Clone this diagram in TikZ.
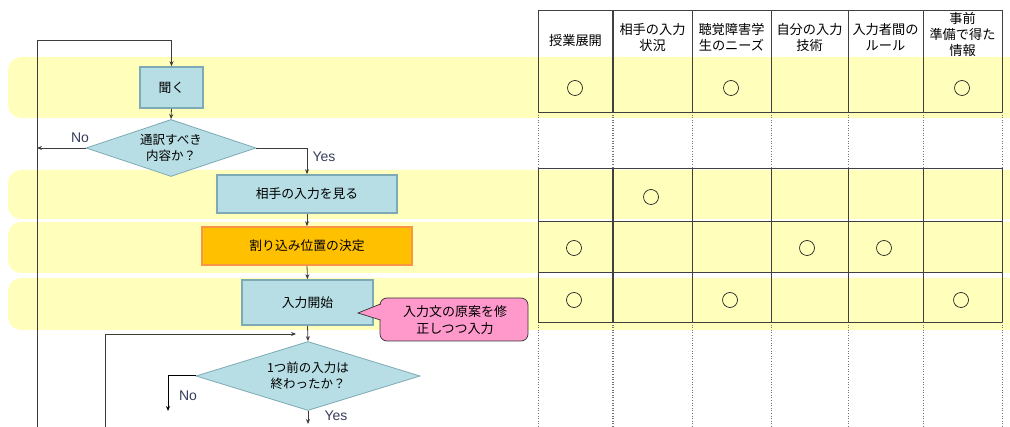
\documentclass[tikz,border=0pt]{standalone}
\usepackage{fontspec}
\setmainfont{Noto Sans CJK JP}
\newfontfamily\lat{Liberation Sans}
\usetikzlibrary{shapes.geometric,arrows.meta}
\definecolor{bandc}{RGB}{255,255,187}
\definecolor{boxfill}{RGB}{183,222,228}
\definecolor{boxline}{RGB}{125,170,180}
\definecolor{orfill}{RGB}{255,192,0}
\definecolor{orline}{RGB}{247,150,70}
\definecolor{pinkfill}{RGB}{255,153,204}
\definecolor{connc}{RGB}{60,60,60}
\definecolor{lblc}{RGB}{55,60,90}
\tikzset{
  flowbox/.style={draw=boxline, fill=boxfill, line width=1.6pt, inner sep=0, font=\fontsize{12.8}{14}\selectfont},
  orbox/.style={flowbox, draw=orline, fill=orfill},
  decision/.style={diamond, aspect=3, draw=boxline, fill=boxfill, line width=0.8pt, inner sep=0, align=center, font=\fontsize{12.5}{15.5}\selectfont},
  conn/.style={draw=connc, line width=0.8pt},
  arr/.style={conn, -{Stealth[length=5pt,width=4pt]}},
  yn/.style={font=\lat\fontsize{14}{14}\selectfont, text=lblc, inner sep=0},
  hdr/.style={align=center, font=\fontsize{13.2}{16}\selectfont, inner sep=0},
  okmark/.style={circle, draw=black!85, line width=0.7pt, minimum size=15pt, inner sep=0},
  bandfill/.style={fill=bandc, rounded corners=13pt},
  tline/.style={draw=black!75, line width=0.6pt},
  dline/.style={draw=black!55, line width=0.6pt, dotted},
  calloutfill/.style={fill=pinkfill},
  calloutline/.style={draw=black!80, line width=0.7pt}
}
\begin{document}
\begin{tikzpicture}[x=1pt,y=-1pt]
\useasboundingbox (0,0) rectangle (1010,427);
% bands
\fill[bandfill] (8,57) rectangle (1040,118);
\fill[bandfill] (8,170) rectangle (1040,219);
\fill[bandfill] (8,222) rectangle (1040,273);
\fill[bandfill] (8,278) rectangle (1040,330);
% table
\foreach \x in {538,692,771,848,923,1002} {
  \draw[tline] (\x,10) -- (\x,112);
  \draw[dline] (\x,112) -- (\x,168);
  \draw[tline] (\x,168) -- (\x,322);
  \draw[dline] (\x,322) -- (\x,427);
}
\draw[tline, line width=1.3pt] (613,10) -- (613,112);
\draw[dline, line width=1.3pt] (613,112) -- (613,168);
\draw[tline, line width=1.3pt] (613,168) -- (613,322);
\draw[dline, line width=1.3pt] (613,322) -- (613,427);
\foreach \y in {10,112,168,221,272,322} {
  \draw[tline] (538,\y) -- (1002,\y);
}
% headers
\node[hdr] (h1) at (575.5,40) {授業展開};
\node[hdr] (h2) at (652.5,37.5) {相手の入力\\状況};
\node[hdr] (h3) at (731.5,37.5) {聴覚障害学\\生のニーズ};
\node[hdr] (h4) at (809.5,37.5) {自分の入力\\技術};
\node[hdr] (h5) at (885.5,37.5) {入力者間の\\ルール};
\node[hdr] (h6) at (962.5,34) {事前\\準備で得た\\情報};
% marks
\node[okmark] (m11) at (575,88) {};
\node[okmark] (m13) at (731,88) {};
\node[okmark] (m16) at (962,88) {};
\node[okmark] (m32) at (651,197) {};
\node[okmark] (m41) at (574,248) {};
\node[okmark] (m44) at (807,248) {};
\node[okmark] (m45) at (884,248) {};
\node[okmark] (m51) at (574,300) {};
\node[okmark] (m53) at (730,300) {};
\node[okmark] (m56) at (961,300) {};
% flowchart nodes
\node[flowbox, minimum width=63pt, minimum height=41pt] (kiku) at (171.5,87.5) {聞く};
\node[decision, minimum width=170pt, minimum height=57pt] (d1) at (171,148) {通訳すべき\\内容か？};
\node[flowbox, minimum width=180pt, minimum height=38pt] (mi) at (307,194) {相手の入力を見る};
\node[orbox, minimum width=210pt, minimum height=38pt] (kettei) at (307,246) {割り込み位置の決定};
\node[flowbox, minimum width=131pt, minimum height=45pt] (kaishi) at (307.5,302.5) {入力開始};
\node[decision, minimum width=224pt, minimum height=69pt] (d2) at (308,376) {1つ前の入力は\\終わったか？};
% callout
\coordinate (tip) at (358,313);
\fill[calloutfill, rounded corners=7pt] (380,298) rectangle (528,341);
\filldraw[calloutfill, calloutline] (380.5,304) -- (tip) -- (380.5,320);
\draw[calloutline, rounded corners=7pt] (380,304) -- (380,298) -- (528,298) -- (528,341) -- (380,341) -- (380,320);
\node[align=center, inner sep=0, font=\fontsize{13}{16.5}\selectfont] (co) at (455,320) {入力文の原案を修\\正しつつ入力};
% connectors
\coordinate (topL) at (37,40);
\coordinate (botL) at (37,427);
\coordinate (botL2) at (105,427);
\coordinate (loopin) at (296,334);
\coordinate (noend) at (168,411);
\coordinate (yesend) at (308,424);
\draw[conn] (botL) -- (topL);
\draw[arr] (topL) -| (kiku.north);
\draw[arr] (kiku.south) -- (d1.north);
\draw[arr] (d1.west) -- (d1.west -| topL);
\draw[arr] (d1.east) -| (mi.north);
\draw[arr] (mi.south) -- (kettei.north);
\draw[arr] (kettei.south) -- (kaishi.north);
\draw[arr] (kaishi.south) -- (d2.north);
\draw[arr] (botL2) |- (loopin);
\draw[arr, draw=black, line width=1pt] (d2.west) -| (noend);
\draw[arr] (d2.south) -- (yesend);
% labels
\node[yn] (no1) at (80,138) {No};
\node[yn] (yes1) at (324,157) {Yes};
\node[yn] (no2) at (188,396) {No};
\node[yn] (yes2) at (336,416) {Yes};
\end{tikzpicture}
\end{document}
